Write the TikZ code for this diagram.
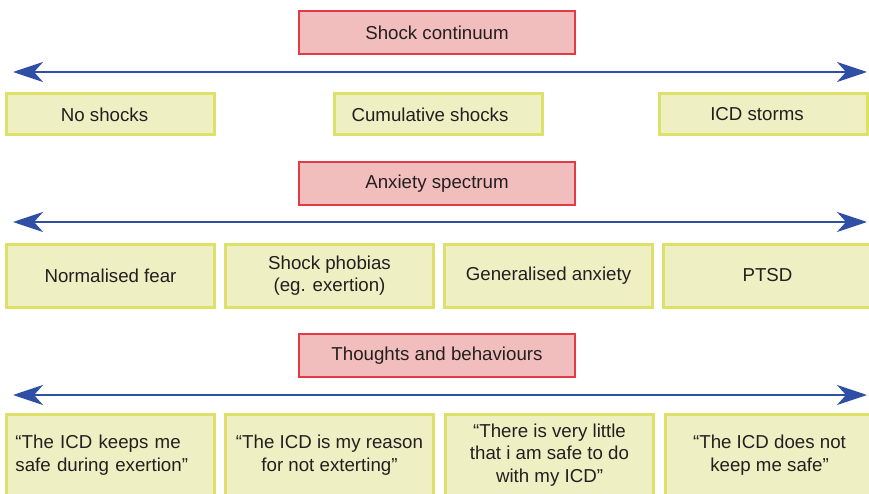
\documentclass[tikz,border=0pt]{standalone}
\usepackage{fontspec}
\setmainfont{Liberation Sans}
\usetikzlibrary{arrows.meta}
\definecolor{hdrfill}{HTML}{F2BDBD}
\definecolor{hdrline}{HTML}{E23A46}
\definecolor{itemfill}{HTML}{EEF0C3}
\definecolor{itemline}{HTML}{DDE16A}
\definecolor{axisblue}{HTML}{2E4FA3}
\definecolor{txt}{HTML}{231F20}
\begin{document}
\begin{tikzpicture}[x=1pt,y=-1pt,
  every node/.style={font=\fontsize{18.7}{22.5}\selectfont, text=txt, inner sep=0pt},
  header/.style={draw=hdrline, fill=hdrfill, line width=2.6pt,
    minimum width=276pt, minimum height=43pt},
  item/.style={draw=itemline, fill=itemfill, line width=3pt,
    minimum width=208pt, align=center},
  axis/.style={draw=axisblue, line width=2.8pt,
    {Stealth[length=30pt,width=20pt,inset=9pt]}-{Stealth[length=30pt,width=20pt,inset=9pt]}}
]
\useasboundingbox (0,0) rectangle (869,494);
\clip (0,0) rectangle (869,494);

% Shock continuum
\node[header] (h1) at (437,32.5) {Shock continuum};
\coordinate (a1l) at (13,72);
\coordinate (a1r) at (867,72);
\draw[axis] (a1l) -- (a1r);
\node[item, minimum height=41pt] (s1) at (110.5,114.5) {No shocks\hspace{12pt}};
\node[item, minimum height=41pt] (s2) at (438,114.5) {Cumulative shocks\hspace{16pt}};
\node[item, minimum height=41pt] (s3) at (763,114.5) {ICD storms\hspace{12pt}};

% Anxiety spectrum
\node[header] (h2) at (437,183.5) {Anxiety spectrum};
\coordinate (a2l) at (13,222);
\coordinate (a2r) at (867,222);
\draw[axis] (a2l) -- (a2r);
\node[item, minimum height=63pt] (p1) at (110.5,275.5) {Normalised fear};
\node[item, minimum height=63pt] (p2) at (329.5,275.5) {Shock phobias\\(eg. exertion)};
\node[item, minimum height=63pt] (p3) at (548.5,275.5) {Generalised anxiety};
\node[item, minimum height=63pt] (p4) at (767.5,275.5) {PTSD};

% Thoughts and behaviours
\node[header] (h3) at (437,355.5) {Thoughts and behaviours};
\coordinate (a3l) at (13,395);
\coordinate (a3r) at (867,395);
\draw[axis] (a3l) -- (a3r);
\node[item, minimum height=82pt, align=left, text width=190pt] (t1) at (110.5,455)
  {“The ICD keeps me\\safe during exertion”};
\node[item, minimum height=82pt] (t2) at (329.5,455)
  {“The ICD is my reason\\for not exterting”};
\node[item, minimum height=82pt] (t3) at (549.5,455)
  {“There is very little\\that i am safe to do\\with my ICD”};
\node[item, minimum height=82pt] (t4) at (769.5,455)
  {“The ICD does not\\keep me safe”};
\end{tikzpicture}
\end{document}
